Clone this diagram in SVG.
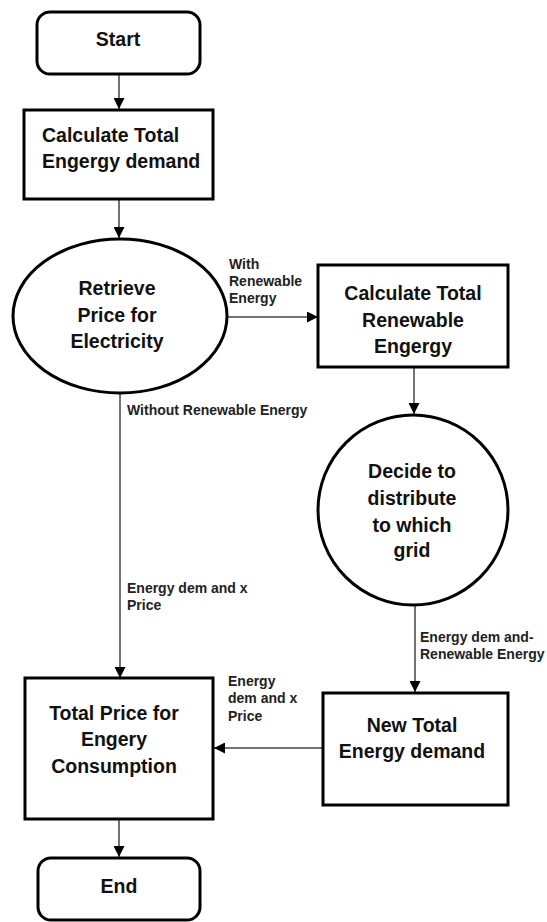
<svg xmlns="http://www.w3.org/2000/svg" width="547" height="922" viewBox="0 0 547 922">
<style>
.node{fill:#fff;stroke:#000;stroke-width:3}
.t{font-family:"Liberation Sans",Arial,sans-serif;font-weight:bold;font-size:19.5px;fill:#111;text-anchor:middle}
.lbl{font-family:"Liberation Sans",Arial,sans-serif;font-weight:bold;font-size:14px;fill:#222}
.edge{fill:none;stroke:#444;stroke-width:1.5}
</style>
<defs>
<marker id="ah" viewBox="0 0 10 10" refX="10" refY="5" markerWidth="11" markerHeight="11" markerUnits="userSpaceOnUse" orient="auto">
<path d="M0,0 L10,5 L0,10 Z" fill="#000"/>
</marker>
</defs>
<g id="connectors">
<line class="edge" x1="119" y1="74" x2="119" y2="109" marker-end="url(#ah)"/>
<line class="edge" x1="119" y1="199" x2="119" y2="238" marker-end="url(#ah)"/>
<line class="edge" x1="227" y1="317" x2="318" y2="317" marker-end="url(#ah)"/>
<line class="edge" x1="414" y1="367" x2="414" y2="414" marker-end="url(#ah)"/>
<line class="edge" x1="120" y1="393" x2="120" y2="678" marker-end="url(#ah)"/>
<line class="edge" x1="415" y1="605" x2="415" y2="692" marker-end="url(#ah)"/>
<line class="edge" x1="323" y1="748" x2="214" y2="748" marker-end="url(#ah)"/>
<line class="edge" x1="119" y1="819" x2="119" y2="857" marker-end="url(#ah)"/>
<text class="lbl"><tspan x="229" y="269">With</tspan><tspan x="229" y="286">Renewable</tspan><tspan x="229" y="303">Energy</tspan></text>
<text class="lbl" x="127" y="415">Without Renewable Energy</text>
<text class="lbl"><tspan x="127" y="593">Energy dem and x</tspan><tspan x="127" y="610">Price</tspan></text>
<text class="lbl"><tspan x="420" y="642">Energy dem and-</tspan><tspan x="420" y="659">Renewable Energy</tspan></text>
<text class="lbl"><tspan x="228" y="686">Energy</tspan><tspan x="228" y="703">dem and x</tspan><tspan x="228" y="721">Price</tspan></text>
</g>
<g id="start">
<rect class="node" x="37" y="12" width="163" height="62" rx="13"/>
<text class="t" x="118" y="46">Start</text>
</g>
<g id="calc-demand">
<rect class="node" x="24" y="110" width="189" height="89"/>
<text class="t" style="text-anchor:start"><tspan x="42" y="142">Calculate Total</tspan><tspan x="42" y="168">Engergy demand</tspan></text>
</g>
<g id="retrieve-price">
<ellipse class="node" cx="120" cy="316" rx="107" ry="77"/>
<text class="t"><tspan x="117" y="295">Retrieve</tspan><tspan x="117" y="322">Price for</tspan><tspan x="117" y="348">Electricity</tspan></text>
</g>
<g id="calc-renewable">
<rect class="node" x="318" y="265" width="190" height="102"/>
<text class="t"><tspan x="413" y="300">Calculate Total</tspan><tspan x="413" y="327">Renewable</tspan><tspan x="413" y="353">Engergy</tspan></text>
</g>
<g id="decide">
<circle class="node" cx="413" cy="510" r="95"/>
<text class="t"><tspan x="412" y="478">Decide to</tspan><tspan x="412" y="505">distribute</tspan><tspan x="412" y="532">to which</tspan><tspan x="412" y="557">grid</tspan></text>
</g>
<g id="new-total">
<rect class="node" x="323" y="693" width="185" height="112"/>
<text class="t"><tspan x="412" y="732">New Total</tspan><tspan x="412" y="758">Energy demand</tspan></text>
</g>
<g id="total-price">
<rect class="node" x="25" y="678" width="188" height="141"/>
<text class="t"><tspan x="114" y="720">Total Price for</tspan><tspan x="114" y="746">Engery</tspan><tspan x="114" y="773">Consumption</tspan></text>
</g>
<g id="end">
<rect class="node" x="38" y="858" width="162" height="62" rx="13"/>
<text class="t" x="119" y="893">End</text>
</g>
</svg>
